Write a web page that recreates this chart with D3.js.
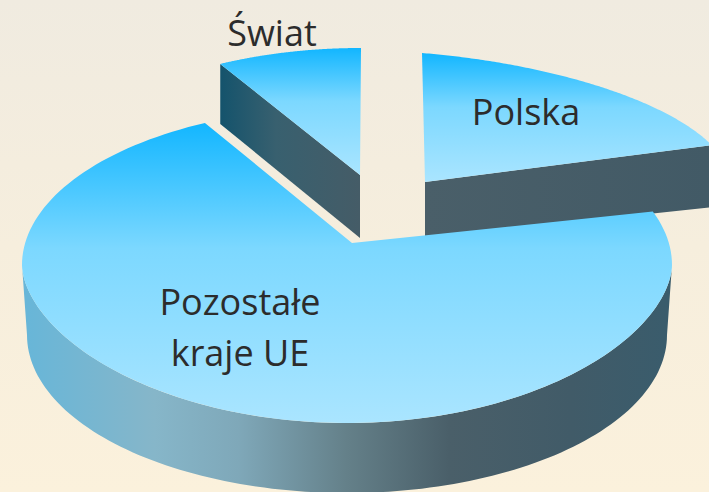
<!DOCTYPE html>
<html>
<head>
<meta charset="utf-8">
<script src="https://cdn.jsdelivr.net/npm/d3@7"></script>
<style>
html,body{margin:0;padding:0;background:#f6eedf;overflow:hidden}
svg{display:block}
text{font-family:"Open Sans",sans-serif;fill:#2c2c2c;text-anchor:middle}
</style>
</head>
<body>
<svg id="chart" width="709" height="492"></svg>
<script>
// ---- data ----
const categories = ["Polska", "Pozostałe kraje UE", "Świat"];
const shares = [19.5, 73.3, 7.2];
const labelLines = [["Polska"], ["Pozostałe", "kraje UE"], ["Świat"]];

// ---- drawing setup (one exploded, projected disc per slice) ----
const W = 709, H = 492;
const proj = [
  {cx:422, cy:156.5, rx:308, ry:103.5, k:25.3, ax:425, ay:182, depth:56, exp:1},
  {cx:347, cy:265,   rx:325, ry:158,   k:0,    ax:352, ay:243, depth:70, exp:1.13},
  {cx:361, cy:206,   rx:322, ry:158,   k:0,    ax:360, ay:175, depth:63, exp:1}
];
const labelPos = [[526,125,0],[240,315,51],[272,46,0]];
const FONT = 36;

const svg = d3.select("#chart");
const defs = svg.append("defs");
function grad(id, attrs, stops){
  const g = defs.append("linearGradient").attr("id", id).attr("gradientUnits","userSpaceOnUse");
  Object.entries(attrs).forEach(([a,v]) => g.attr(a,v));
  stops.forEach(([o,c]) => g.append("stop").attr("offset",o).attr("stop-color",c));
}
grad("bg",{x1:0,x2:0,y1:0,y2:H},[[0,"#f0ebe0"],[0.5,"#f6eedd"],[1,"#fbf1dc"]]);
const topStops = [[0,"#12b6ff"],[0.42,"#7cd8ff"],[1,"#aae5ff"]];
grad("top0",{x1:0,x2:0,y1:53,y2:182},topStops);
grad("top1",{x1:0,x2:0,y1:122,y2:423},topStops);
grad("top2",{x1:0,x2:0,y1:48,y2:175},topStops);
grad("wall0",{x1:425,x2:709,y1:0,y2:0},[[0,"#4a5f69"],[1,"#425a66"]]);
grad("wall1",{x1:27,x2:667,y1:0,y2:0},[[0,"#68b6d8"],[0.2,"#86b6c9"],[0.33,"#7fa8b9"],[0.5,"#648089"],[0.66,"#4a5f69"],[0.85,"#415b68"],[1,"#3a5c6c"]]);
grad("wall2",{x1:220,x2:360,y1:0,y2:0},[[0,"#14536c"],[0.4,"#38606f"],[1,"#455c67"]]);

svg.append("rect").attr("width",W).attr("height",H).attr("fill","url(#bg)");

const arcs = d3.pie().sort(null).value(d => d)(shares);
const line = d3.line();
function rim(p, t){
  const s = Math.sin(t), c = Math.cos(t);
  const yc = c < 0 ? -Math.pow(-c, p.exp) : c;
  return [p.cx + p.rx * s, p.cy - p.ry * yc + p.k * s];
}
function samples(a, b, n){ return d3.range(n + 1).map(i => a + (b - a) * i / n); }

// sides
function sidePath(i){
  const a = arcs[i], p = proj[i];
  if (i === 1) {
    const d = p.depth, wr = 320;
    const bottom = samples(Math.PI/2, 3*Math.PI/2, 120).map(t =>
      [p.cx + wr * Math.sin(t), p.cy + d - p.ry * Math.cos(t)]);
    const upper = samples(3*Math.PI/2, Math.PI/2, 120).map(t => rim(p, t));
    return line(bottom.concat(upper)) + "Z";
  }
  const edge = i === 0 ? a.endAngle : a.startAngle;
  const e = rim(p, edge);
  return line([[p.ax,p.ay],e,[e[0],e[1]+p.depth+(i===0?6:-3)],[p.ax,p.ay+p.depth]]) + "Z";
}
function topPath(i){
  const a = arcs[i], p = proj[i];
  const pts = samples(a.startAngle, a.endAngle, 160).map(t => rim(p, t));
  return line([[p.ax,p.ay]].concat(pts)) + "Z";
}

const order = [0, 2, 1];
order.forEach(i => {
  svg.append("path").attr("d", sidePath(i)).attr("fill", `url(#wall${i})`);
  svg.append("path").attr("d", topPath(i)).attr("fill", `url(#top${i})`);
});

// labels
labelLines.forEach((lines, i) => {
  const [x, y, dy] = labelPos[i];
  const t = svg.append("text").attr("font-size", FONT).attr("aria-label", categories[i]);
  lines.forEach((l, j) => t.append("tspan").attr("x", x).attr("y", y + j * dy).text(l));
});
</script>
</body>
</html>
